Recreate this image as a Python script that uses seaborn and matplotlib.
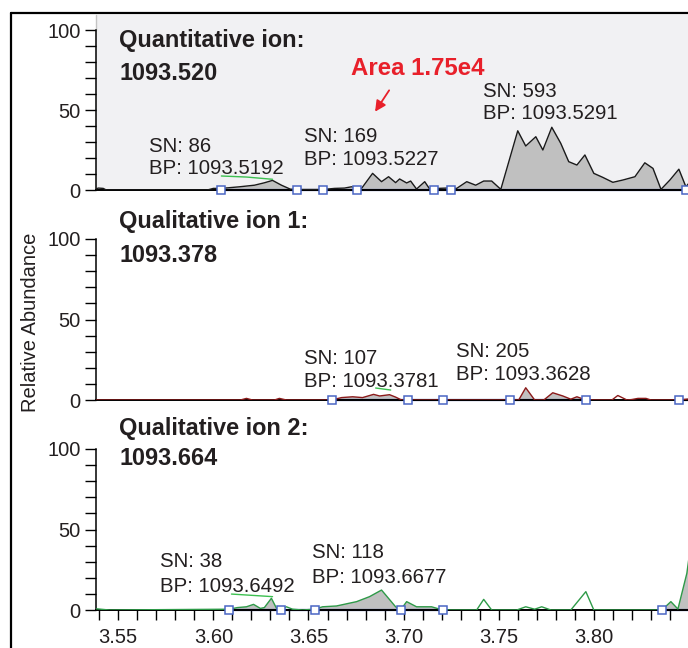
import numpy as np
import pandas as pd
import matplotlib
matplotlib.use("Agg")
import matplotlib.pyplot as plt
from matplotlib.ticker import FixedLocator, MultipleLocator, FormatStrFormatter
from matplotlib.lines import Line2D
import seaborn as sns

# ---------------- data ----------------
# Quantitative ion 1093.520 (retention time in min, relative abundance)
rt_quant = [3.5379, 3.5395, 3.5421, 3.5437, 3.5968, 3.6000, 3.6042, 3.6137, 3.6216,
            3.6268, 3.6311, 3.6358, 3.6405, 3.6442, 3.6574, 3.6637, 3.6689, 3.6726,
            3.6779, 3.6837, 3.6884, 3.6921, 3.6958, 3.6979, 3.7016, 3.7037, 3.7068,
            3.7111, 3.7137, 3.7179, 3.7226, 3.7279, 3.7332, 3.7379, 3.7421, 3.7463,
            3.7511, 3.7600, 3.7642, 3.7695, 3.7732, 3.7779, 3.7826, 3.7868, 3.7911,
            3.7953, 3.8000, 3.8047, 3.8100, 3.8153, 3.8216, 3.8268, 3.8311, 3.8353,
            3.8400, 3.8447, 3.8484, 3.8526]
ab_quant = [0.5, 1.2, 1.0, 0.0, 0.0, 1.0, 1.0, 2.0, 3.0,
            4.5, 6.0, 3.0, 0.5, 0.3, 0.3, 1.0, 1.2, 2.0,
            1.0, 10.4, 5.2, 8.3, 4.6, 6.9, 4.4, 5.6, 0.6,
            5.2, 0.6, 1.0, 1.2, 1.0, 5.2, 3.0, 5.6, 5.6,
            0.4, 37.0, 27.5, 33.3, 25.0, 39.2, 29.2, 17.7, 15.6,
            21.9, 10.4, 7.9, 4.8, 6.25, 8.3, 17.0, 13.5, 0.4,
            6.25, 13.0, 2.0, 8.0]

# Qualitative ion 1: 1093.378
rt_qual1 = [3.5379, 3.6142, 3.6174, 3.6205, 3.6321, 3.6347, 3.6384, 3.6621, 3.6674,
            3.6732, 3.6784, 3.6842, 3.6874, 3.6926, 3.6958, 3.6989, 3.7605, 3.7642,
            3.7689, 3.7737, 3.7784, 3.7837, 3.7879, 3.7911, 3.7958, 3.8095, 3.8126,
            3.8174, 3.8200, 3.8232, 3.8274, 3.8300, 3.8447, 3.8526]
ab_qual1 = [0.0, 0.0, 1.0, 0.0, 0.0, 1.0, 0.0, 0.0, 1.5,
            2.0, 1.5, 3.5, 2.5, 3.3, 1.8, 0.0, 0.0, 7.6,
            0.0, 0.0, 4.5, 2.5, 0.5, 2.0, 0.0, 0.0, 2.8,
            0.0, 0.3, 1.0, 1.0, 0.0, 0.0, 1.0]

# Qualitative ion 2: 1093.664
rt_qual2 = [3.5379, 3.5453, 3.6084, 3.6126, 3.6174, 3.6211, 3.6247, 3.6268, 3.6305,
            3.6332, 3.6358, 3.6384, 3.6416, 3.6468, 3.6532, 3.6574, 3.6647, 3.6753,
            3.6821, 3.6884, 3.6958, 3.6984, 3.7016, 3.7068, 3.7147, 3.7205, 3.7384,
            3.7421, 3.7463, 3.7595, 3.7642, 3.7689, 3.7726, 3.7774, 3.7879, 3.7958,
            3.8000, 3.8358, 3.8405, 3.8442, 3.8489, 3.8532]
ab_qual2 = [0.8, 0.0, 0.5, 1.5, 2.0, 3.5, 1.0, 1.5, 7.3,
            1.0, 0.5, 2.0, 0.5, 0.0, 0.5, 2.0, 2.5, 5.2,
            8.3, 12.4, 2.0, 0.0, 5.2, 2.0, 2.0, 0.0, 0.0,
            6.6, 0.0, 0.0, 2.0, 0.5, 2.0, 0.0, 0.0, 11.4,
            0.0, 0.0, 5.2, 0.6, 22.8, 60.0]

# integrated peak boundaries (start/end markers)
bounds_quant = [3.6042, 3.6442, 3.6574, 3.6753, 3.7158, 3.7247, 3.8484]
bounds_qual1 = [3.6621, 3.7021, 3.7205, 3.7558, 3.7958, 3.8447]
bounds_qual2 = [3.6084, 3.6358, 3.6532, 3.6984, 3.7205, 3.8358]

# shaded (integrated) ranges
fill_quant = [(3.53, 3.86)]
fill_qual1 = [(3.6621, 3.6989), (3.7605, 3.7958), (3.8447, 3.86)]
fill_qual2 = [(3.6084, 3.6358), (3.6532, 3.7205), (3.8358, 3.86)]

# baseline spans drawn under the integrated peaks
base_quant = [(3.6042, 3.86)]
base_qual1 = [(3.6621, 3.7958), (3.8447, 3.86)]
base_qual2 = [(3.6084, 3.7205), (3.8358, 3.86)]

# apex guide segments
apex_quant_x, apex_quant_y = [3.6042, 3.6174, 3.6311], [8.75, 8.1, 6.7]
apex_qual1_x, apex_qual1_y = [3.6853, 3.6932], [7.45, 6.2]
apex_qual2_x, apex_qual2_y = [3.6095, 3.6311], [9.9, 8.3]

titles = [("Quantitative ion:", "1093.520"),
          ("Qualitative ion 1:", "1093.378"),
          ("Qualitative ion 2:", "1093.664")]

peak_labels = [
    [("SN: 86", "BP: 1093.5192"), ("SN: 169", "BP: 1093.5227"), ("SN: 593", "BP: 1093.5291")],
    [("SN: 107", "BP: 1093.3781"), ("SN: 205", "BP: 1093.3628")],
    [("SN: 38", "BP: 1093.6492"), ("SN: 118", "BP: 1093.6677")],
]
area_text = "Area 1.75e4"
x_ticks = [3.55, 3.60, 3.65, 3.70, 3.75, 3.80, 3.85]
y_ticks = [0, 50, 100]
y_minor = list(range(0, 101, 10))

# ---------------- style ----------------
sns.set_theme(style="white")
plt.rcParams["font.family"] = ["Liberation Sans", "DejaVu Sans"]
TXT = "#231f20"
FILL = "#c0c0c0"
BASE = "#2c3e9a"
SQ = "#4a66c4"
APEX = "#3cc050"
RED = "#e8202a"

W, H = 688, 648
fig = plt.figure(figsize=(W / 100, H / 100), dpi=100)
fig.patch.set_facecolor("white")

XMIN, XMAX = 3.5383, 3.8495

# (zero-line pixel row, pixels per unit, top limit)
panel_geo = [(190, 1.60, 109.375), (400, 1.61, 110.0), (610, 1.61, 110.0)]
series = [
    (rt_quant, ab_quant, "#1a1a1a", fill_quant, bounds_quant, base_quant, (apex_quant_x, apex_quant_y)),
    (rt_qual1, ab_qual1, "#8b1a1a", fill_qual1, bounds_qual1, base_qual1, (apex_qual1_x, apex_qual1_y)),
    (rt_qual2, ab_qual2, "#2e9a48", fill_qual2, bounds_qual2, base_qual2, (apex_qual2_x, apex_qual2_y)),
]

# label positions (x in min, baseline y in abundance units)
title_pos = [(3.5505, 89.4, 68.75), (3.5505, 106.8, 85.7), (3.5505, 108.7, 90.1)]
label_pos = [
    [(3.5663, 23.75, 10.0), (3.6474, 30.2, 15.6), (3.7416, 58.1, 44.4)],
    [(3.6474, 22.4, 8.1), (3.7274, 26.7, 12.4)],
    [(3.5721, 26.7, 11.2), (3.6521, 32.3, 16.8)],
]

axes = []
for i, ((y0, ppu, top), (rt, ab, col, fills, bnds, bases, apex)) in enumerate(zip(panel_geo, series)):
    h_px = top * ppu
    ax = fig.add_axes([96 / W, 1 - y0 / H, 1 - 96 / W, h_px / H])
    axes.append(ax)
    ax.set_facecolor("#f1f1f3" if i == 0 else "white")
    ax.set_xlim(XMIN, XMAX)
    ax.set_ylim(0, top)

    rt_a = np.asarray(rt)
    ab_a = np.asarray(ab)
    mask = np.zeros_like(rt_a, dtype=bool)
    for lo, hi in fills:
        mask |= (rt_a >= lo - 1e-6) & (rt_a <= hi + 1e-6)
    ax.fill_between(rt_a, 0, ab_a, where=mask, color=FILL, lw=0, zorder=1)

    # baseline under integrated peaks
    for lo, hi in bases:
        ax.plot([lo, hi], [0, 0], color=BASE, lw=1.6, zorder=2, clip_on=False)

    df = pd.DataFrame({"rt": rt, "ab": ab})
    sns.lineplot(data=df, x="rt", y="ab", ax=ax, color=col, lw=1.0,
                 zorder=3, sort=False, estimator=None)

    ax.plot(bnds, np.zeros(len(bnds)), ls="none", marker="s", ms=5.5, mfc="white",
            mec=SQ, mew=1.1, zorder=4, clip_on=False)
    ax.plot(apex[0], apex[1], color=APEX, lw=1.0, zorder=4)

    # axes styling
    for s in ["top", "right"]:
        ax.spines[s].set_visible(False)
    ax.spines["left"].set_bounds(0, 100)
    ax.spines["left"].set_color("black")
    ax.spines["left"].set_linewidth(1.1)
    ax.spines["bottom"].set_color("black")
    ax.spines["bottom"].set_linewidth(1.4)
    ax.spines["bottom"].set_zorder(2.5)
    ax.yaxis.set_major_locator(FixedLocator(y_ticks))
    ax.yaxis.set_minor_locator(FixedLocator(y_minor))
    ax.tick_params(axis="y", which="both", left=True, length=8, width=1.0,
                   color="black", direction="out", pad=3, labelsize=14.5, labelcolor=TXT)
    ax.set_ylabel("")
    ax.set_xlabel("")
    if i == 0:
        ax.plot([XMIN, XMIN], [100, top], color="#c4c4c4", lw=1.0, clip_on=False)
    if i < 2:
        ax.tick_params(axis="x", which="both", bottom=False, labelbottom=False)
    else:
        ax.xaxis.set_major_locator(FixedLocator(x_ticks))
        ax.xaxis.set_major_formatter(FormatStrFormatter("%.2f"))
        ax.xaxis.set_minor_locator(MultipleLocator(0.01))
        ax.tick_params(axis="x", which="both", bottom=True, length=7, width=1.0,
                       color="black", direction="out", pad=6, labelsize=14.5, labelcolor=TXT)

    tx, ty1, ty2 = title_pos[i]
    ax.text(tx, ty1, titles[i][0], fontsize=16.9, fontweight="bold", color=TXT,
            va="baseline", ha="left", clip_on=False)
    ax.text(tx, ty2, titles[i][1], fontsize=16.9, fontweight="bold", color=TXT,
            va="baseline", ha="left", clip_on=False)
    for (sn, bp), (lx, ly1, ly2) in zip(peak_labels[i], label_pos[i]):
        ax.text(lx, ly1, sn, fontsize=14.7, color=TXT, va="baseline", ha="left")
        ax.text(lx, ly2, bp, fontsize=14.7, color=TXT, va="baseline", ha="left")

# area callout on the quantitative trace
axes[0].text(3.6721, 71.9, area_text, fontsize=17.3, fontweight="bold", color=RED,
             va="baseline", ha="left")
axes[0].annotate("", xy=(3.6842, 47.5), xytext=(3.6932, 63.75),
                 arrowprops=dict(arrowstyle="-|>", color=RED, lw=1.3, mutation_scale=16))

fig.text(31 / W, 1 - 322 / H, "Relative Abundance", rotation=90, fontsize=14.5,
         color=TXT, ha="center", va="center")

# outer frame
fig.add_artist(Line2D([11 / W, 11 / W], [0, 1 - 13 / H], color="black", lw=1.6,
                      transform=fig.transFigure))
fig.add_artist(Line2D([11 / W, 1.0], [1 - 13 / H, 1 - 13 / H], color="black", lw=1.6,
                      transform=fig.transFigure))

fig.savefig("out.png", dpi=100)
